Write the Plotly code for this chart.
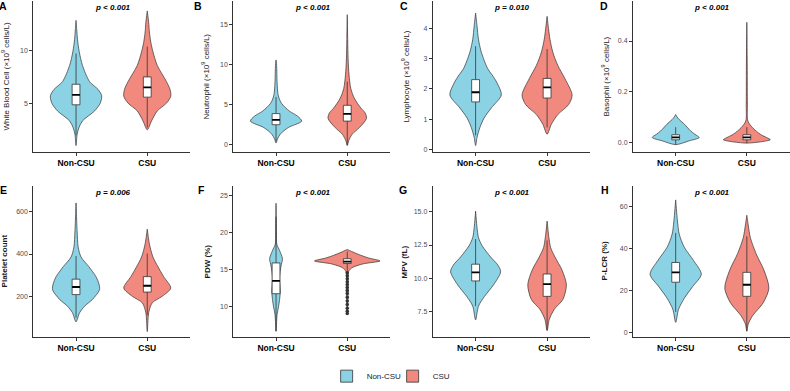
import plotly.graph_objects as go

# ---------------- data ----------------
groups = ["Non-CSU", "CSU"]
panel_letters = ["A", "B", "C", "D", "E", "F", "G", "H"]
p_labels = ["p &lt; 0.001", "p &lt; 0.001", "p = 0.010", "p &lt; 0.001",
            "p = 0.006", "p &lt; 0.001", "p &lt; 0.001", "p &lt; 0.001"]
y_titles = ["White Blood Cell (×10<sup>9</sup> cells/L)",
            "Neutrophil (×10<sup>9</sup> cells/L)",
            "Lymphocyte (×10<sup>9</sup> cells/L)",
            "Basophil (×10<sup>9</sup> cells/L)",
            "<b>Platelet count</b>", "<b>PDW (%)</b>", "<b>MPV (fL)</b>", "<b>P-LCR (%)</b>"]
y_ranges = [[0.31, 14.75], [-0.9, 17.9], [-0.1, 4.92], [-0.039, 0.558],
            [6.5, 724], [5.9, 26.38], [5.57, 16.97], [-2.34, 69.8]]
y_tickvals = [[5, 10], [0, 5, 10, 15], [0, 1, 2, 3, 4], [0.0, 0.2, 0.4],
              [200, 400, 600], [10, 15, 20, 25], [7.5, 10.0, 12.5, 15.0], [0, 20, 40, 60]]
y_ticktext = [["5", "10"], ["0", "5", "10", "15"], ["0", "1", "2", "3", "4"], ["0.0", "0.2", "0.4"],
              ["200", "400", "600"], ["10", "15", "20", "25"], ["7.5", "10.0", "12.5", "15.0"],
              ["0", "20", "40", "60"]]

# violin density profiles: value levels and half-widths
A_non_v = [0.94, 2.0, 2.64, 3.3, 4.25, 5.0, 5.7, 6.3, 7.05, 8.6, 9.9, 11.1, 12.0, 12.9]
A_non_w = [0, 0.015, 0.04, 0.09, 0.26, 0.34, 0.36, 0.31, 0.19, 0.09, 0.045, 0.02, 0.01, 0]
A_csu_v = [2.45, 3.3, 4.25, 5.0, 5.66, 6.3, 7.05, 8.6, 9.9, 10.8, 11.8, 12.7, 13.8]
A_csu_w = [0, 0.06, 0.14, 0.27, 0.33, 0.32, 0.27, 0.14, 0.08, 0.05, 0.03, 0.02, 0]
B_non_v = [0.24, 0.74, 1.35, 2.16, 2.97, 3.6, 4.2, 5.2, 6.2, 7.8, 9.9, 10.57]
B_non_w = [0, 0.02, 0.06, 0.17, 0.36, 0.3, 0.19, 0.075, 0.03, 0.015, 0.008, 0]
B_csu_v = [-0.07, 0.53, 1.35, 2.16, 3.3, 4.0, 4.6, 5.8, 7.0, 8.7, 10.7, 13.1, 16.2]
B_csu_w = [0, 0.02, 0.07, 0.17, 0.27, 0.25, 0.19, 0.1, 0.05, 0.025, 0.012, 0.006, 0]
C_non_v = [0.12, 0.39, 0.72, 1.04, 1.37, 1.8, 2.2, 2.47, 2.67, 3.22, 3.65, 4.09, 4.52]
C_non_w = [0, 0.02, 0.06, 0.12, 0.22, 0.36, 0.3, 0.23, 0.17, 0.08, 0.04, 0.02, 0]
C_csu_v = [0.5, 0.83, 1.15, 1.48, 1.8, 2.34, 2.78, 3.22, 3.65, 4.0, 4.41]
C_csu_w = [0, 0.06, 0.15, 0.3, 0.35, 0.25, 0.15, 0.08, 0.04, 0.02, 0]
D_non_v = [-0.009, 0.006, 0.019, 0.032, 0.045, 0.071, 0.09, 0.1, 0.11]
D_non_w = [0, 0.19, 0.33, 0.27, 0.21, 0.125, 0.05, 0.02, 0]
D_csu_v = [-0.003, 0.01, 0.013, 0.032, 0.058, 0.084, 0.15, 0.3, 0.474]
D_csu_w = [0, 0.33, 0.32, 0.19, 0.08, 0.015, 0.008, 0.006, 0]
E_non_v = [79, 122, 153, 185, 231, 260, 293, 340, 386, 433, 510, 642]
E_non_w = [0, 0.05, 0.12, 0.23, 0.33, 0.32, 0.28, 0.18, 0.07, 0.03, 0.015, 0]
E_csu_v = [33, 122, 169, 200, 239, 293, 340, 386, 448, 518]
E_csu_w = [0, 0.02, 0.07, 0.21, 0.33, 0.23, 0.15, 0.08, 0.03, 0]
F_non_v = [6.7, 8.0, 9.0, 10.0, 11.0, 12.0, 14.0, 15.5, 16.5, 17.6, 18.5, 20.0, 24.0]
F_non_w = [0, 0.008, 0.015, 0.035, 0.05, 0.06, 0.05, 0.07, 0.09, 0.05, 0.01, 0.006, 0]
F_csu_v = [9.0, 12.0, 14.8, 15.3, 15.8, 16.2, 16.6, 17.0, 17.4, 17.75]
F_csu_w = [0, 0.012, 0.02, 0.07, 0.22, 0.46, 0.3, 0.18, 0.08, 0]
G_non_v = [6.87, 7.9, 8.64, 9.5, 10.49, 11.0, 11.6, 12.46, 13.07, 13.8, 15.05]
G_non_w = [0, 0.04, 0.125, 0.25, 0.35, 0.31, 0.21, 0.09, 0.04, 0.02, 0]
G_csu_v = [6.05, 6.9, 7.66, 8.4, 9.5, 10.6, 11.6, 12.3, 13.07, 14.3]
G_csu_w = [0, 0.03, 0.1, 0.22, 0.27, 0.21, 0.11, 0.05, 0.025, 0]
H_non_v = [4.7, 10.9, 16.4, 21.8, 27.6, 34.2, 40.5, 46.7, 53, 63]
H_non_w = [0, 0.04, 0.125, 0.24, 0.36, 0.25, 0.12, 0.05, 0.025, 0]
H_csu_v = [0.5, 3.9, 7.8, 14, 21, 29.6, 37.4, 45, 51, 55.7]
H_csu_w = [0, 0.02, 0.08, 0.23, 0.31, 0.24, 0.13, 0.05, 0.02, 0]

# box statistics [q1, median, q3]
A_non_box = [4.84, 5.79, 6.8];   A_csu_box = [5.57, 6.5, 7.5]
B_non_box = [2.52, 3.13, 3.9];   B_csu_box = [2.97, 3.87, 4.93]
C_non_box = [1.57, 1.89, 2.31];  C_csu_box = [1.7, 2.05, 2.35]
D_non_box = [0.01, 0.02, 0.03];  D_csu_box = [0.01, 0.02, 0.03]
E_non_box = [208, 244, 281];     E_csu_box = [220, 250, 293]
F_non_box = [11.77, 13.5, 15.93]; F_csu_box = [15.85, 16.1, 16.5]
G_non_box = [9.8, 10.44, 11.06]; G_csu_box = [8.64, 9.56, 10.32]
H_non_box = [23.8, 28.5, 33.2];  H_csu_box = [17.1, 22.6, 28.5]

# visible outlier points (PDW, CSU)
F_csu_out = [14.6, 14.2, 13.8, 13.4, 13.0, 12.6, 12.2, 11.8, 11.3, 10.8, 10.3, 9.8, 9.4, 9.1]

panels = [
    (A_non_v, A_non_w, A_csu_v, A_csu_w, A_non_box, A_csu_box),
    (B_non_v, B_non_w, B_csu_v, B_csu_w, B_non_box, B_csu_box),
    (C_non_v, C_non_w, C_csu_v, C_csu_w, C_non_box, C_csu_box),
    (D_non_v, D_non_w, D_csu_v, D_csu_w, D_non_box, D_csu_box),
    (E_non_v, E_non_w, E_csu_v, E_csu_w, E_non_box, E_csu_box),
    (F_non_v, F_non_w, F_csu_v, F_csu_w, F_non_box, F_csu_box),
    (G_non_v, G_non_w, G_csu_v, G_csu_w, G_non_box, G_csu_box),
    (H_non_v, H_non_w, H_csu_v, H_csu_w, H_non_box, H_csu_box),
]

# ---------------- style / layout ----------------
W, H = 790, 391
FILLS = ["#8BD2E5", "#F1897E"]
OUTLINE = "#333333"
FONT = "Liberation Sans"
BOX_W = 0.11

col_px = [(33.3, 190.0), (233.3, 390.0), (432.7, 590.0), (633.0, 789.5)]
row_px = [(1.0, 155.0), (189.0, 343.3)]
title_x_px = [5, 205, 405, 605, 4, 207, 404, 604]
label_x_px = [3, 198, 404, 604, 3, 201, 403, 605]
label_y_px = [6, 193]
pval_y_px = [8, 196]

fig = go.Figure()
layout = dict(
    width=W, height=H, margin=dict(l=0, r=0, t=0, b=0),
    paper_bgcolor="white", plot_bgcolor="white",
    font=dict(family=FONT, color="#000000"),
    showlegend=True,
    legend=dict(orientation="h", x=0.497, xanchor="center", y=1 - 383 / H, yanchor="middle",
                font=dict(size=8, family=FONT, color="#222"), itemwidth=30,
                entrywidth=21, entrywidthmode="pixels",
                traceorder="normal", bgcolor="rgba(0,0,0,0)"),
)
annotations = []


def fence(box, v):
    q1, med, q3 = box
    iqr = q3 - q1
    return max(min(v), q1 - 1.5 * iqr), min(max(v), q3 + 1.5 * iqr)


for i, (nv, nw, cv, cw, nbox, cbox) in enumerate(panels):
    r, c = divmod(i, 4)
    xa, ya = f"x{i + 1}", f"y{i + 1}"
    xk, yk = ("xaxis" if i == 0 else f"xaxis{i + 1}"), ("yaxis" if i == 0 else f"yaxis{i + 1}")
    x0, x1 = col_px[c]
    top, bot = row_px[r]
    layout[xk] = dict(domain=[x0 / W, x1 / W], anchor=ya, range=[0.4, 2.6],
                      tickvals=[1, 2], ticktext=[f"<b>{g}</b>" for g in groups],
                      tickfont=dict(size=8.5, color="#000", family=FONT),
                      showline=True, linecolor=OUTLINE, linewidth=1, ticks="outside",
                      ticklen=3, tickcolor=OUTLINE, showgrid=False, zeroline=False, fixedrange=True)
    layout[yk] = dict(domain=[1 - bot / H, 1 - top / H], anchor=xa, range=y_ranges[i],
                      tickvals=y_tickvals[i], ticktext=y_ticktext[i],
                      tickfont=dict(size=7, color="#4D4D4D", family=FONT),
                      showline=True, linecolor=OUTLINE, linewidth=1, ticks="outside",
                      ticklen=3, tickcolor=OUTLINE, showgrid=False, zeroline=False, fixedrange=True)

    for gi, (v, w, box) in enumerate([(nv, nw, nbox), (cv, cw, cbox)]):
        cx = gi + 1
        xs = [cx + wi for wi in w] + [cx - wi for wi in reversed(w)]
        ys = list(v) + list(reversed(v))
        # violin
        fig.add_trace(go.Scatter(x=xs, y=ys, xaxis=xa, yaxis=ya, mode="lines", fill="toself",
                                 fillcolor=FILLS[gi], line=dict(color=OUTLINE, width=0.7, shape="spline",
                                                                smoothing=0.8),
                                 showlegend=False, hoverinfo="skip"))
        lo, hi = fence(box, v)
        # whiskers
        fig.add_trace(go.Scatter(x=[cx, cx, None, cx, cx], y=[lo, box[0], None, box[2], hi],
                                 xaxis=xa, yaxis=ya, mode="lines",
                                 line=dict(color=OUTLINE, width=0.8), showlegend=False, hoverinfo="skip"))
        # box
        bl, br = cx - BOX_W / 2, cx + BOX_W / 2
        fig.add_trace(go.Scatter(x=[bl, br, br, bl, bl], y=[box[0], box[0], box[2], box[2], box[0]],
                                 xaxis=xa, yaxis=ya, mode="lines", fill="toself", fillcolor="white",
                                 line=dict(color=OUTLINE, width=0.8), showlegend=False, hoverinfo="skip"))
        # median
        fig.add_trace(go.Scatter(x=[bl, br], y=[box[1], box[1]],
                                 xaxis=xa, yaxis=ya, mode="lines",
                                 line=dict(color="#000", width=1.8), showlegend=False, hoverinfo="skip"))
    if i == 5:
        fig.add_trace(go.Scatter(x=[2] * len(F_csu_out), y=F_csu_out, xaxis=xa, yaxis=ya, mode="markers",
                                 marker=dict(size=3.5, color=OUTLINE), showlegend=False, hoverinfo="skip"))

    # p-value
    annotations.append(dict(xref="paper", yref="paper", x=((x0 + x1) / 2 + 1) / W, y=1 - pval_y_px[r] / H,
                            text=f"<b><i>{p_labels[i]}</i></b>", showarrow=False,
                            font=dict(size=8, family=FONT, color="#000"), xanchor="center", yanchor="middle"))
    # y title
    annotations.append(dict(xref="paper", yref="paper", x=title_x_px[i] / W, y=1 - (top + bot) / 2 / H,
                            text=y_titles[i], textangle=-90, showarrow=False,
                            font=dict(size=8, family=FONT, color="#1a1a1a"),
                            xanchor="center", yanchor="middle"))
    # panel letter
    annotations.append(dict(xref="paper", yref="paper", x=label_x_px[i] / W, y=1 - label_y_px[r] / H,
                            text=f"<b>{panel_letters[i]}</b>", showarrow=False,
                            font=dict(size=10.5, family=FONT, color="#000"),
                            xanchor="center", yanchor="middle"))

# legend entries
for gi, g in enumerate(groups):
    fig.add_trace(go.Scatter(x=[None], y=[None], xaxis="x1", yaxis="y1", mode="markers", name=g,
                             marker=dict(symbol="square", size=12, color=FILLS[gi],
                                         line=dict(color=OUTLINE, width=0.8)),
                             showlegend=True, hoverinfo="skip"))

layout["annotations"] = annotations
fig.update_layout(**layout)
fig.write_html("out.html")
